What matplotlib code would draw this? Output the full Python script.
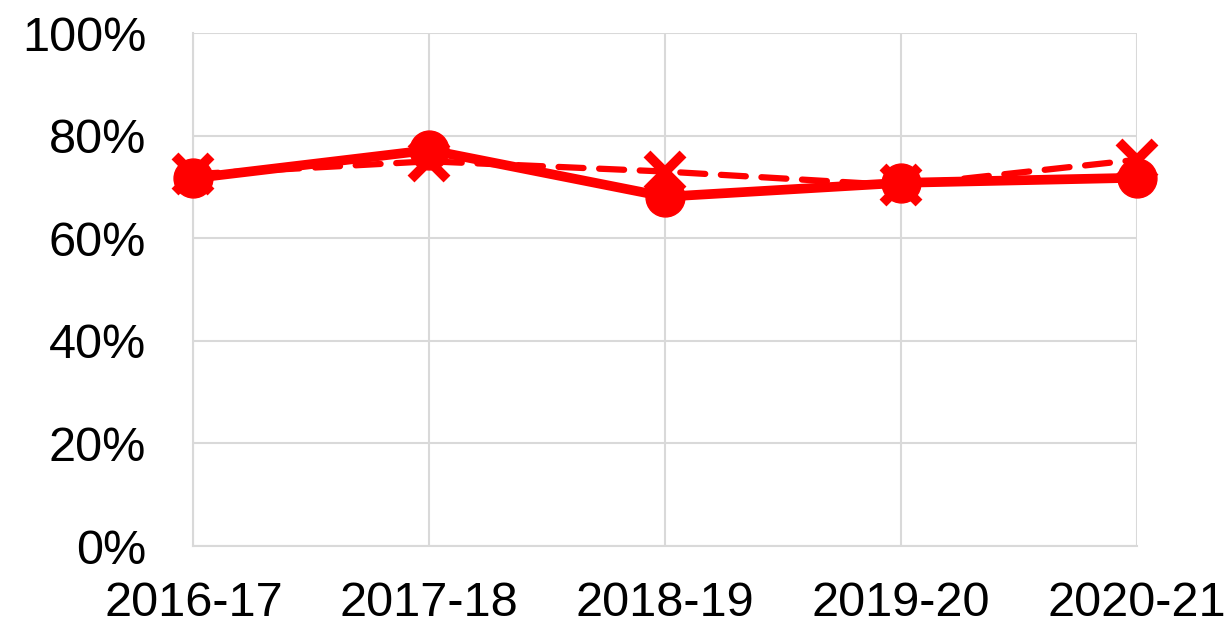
import matplotlib.pyplot as plt
from matplotlib.ticker import PercentFormatter

# data
years = ['2016-17', '2017-18', '2018-19', '2019-20', '2020-21']
solid_vals = [71.7, 77.2, 68.1, 70.8, 71.8]
dashed_vals = [72.5, 75.0, 73.0, 70.3, 75.3]

plt.rcParams['font.family'] = ['Liberation Sans', 'DejaVu Sans']

fig = plt.figure(figsize=(12.24, 6.24), dpi=100)
ax = fig.add_axes([0.158, 0.125, 0.771, 0.822])

x = list(range(len(years)))

ax.plot(x, dashed_vals, color='#ff0000', lw=4.5, linestyle=(0, (4, 2.5)),
        dash_capstyle='round', marker='x', markersize=26, markeredgewidth=7,
        zorder=3, clip_on=False)
ax.plot(x, solid_vals, color='#ff0000', lw=7, marker='o', markersize=28,
        zorder=4, clip_on=False)

ax.set_xlim(0, 4)
ax.set_ylim(0, 100)
ax.set_xticks(x)
ax.set_xticklabels(years)
ax.set_yticks(range(0, 101, 20))
ax.yaxis.set_major_formatter(PercentFormatter(decimals=0))

ax.grid(True, color='#d9d9d9', lw=1.5)
ax.set_axisbelow(True)
for side in ['top', 'right']:
    ax.spines[side].set_visible(False)
for side in ['left', 'bottom']:
    ax.spines[side].set_color('#d9d9d9')
    ax.spines[side].set_linewidth(1.5)

ax.tick_params(axis='both', length=0, labelsize=35, colors='black')
ax.tick_params(axis='y', pad=34)
ax.tick_params(axis='x', pad=25)

plt.savefig('out.png', dpi=100)
